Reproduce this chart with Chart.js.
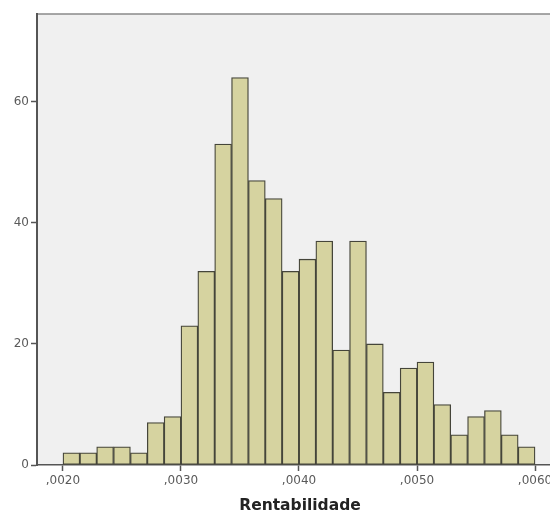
<!DOCTYPE html>
<html>
<head>
<meta charset="utf-8">
<script src="https://cdn.jsdelivr.net/npm/chart.js@4.4.0/dist/chart.umd.min.js"></script>
<style>
body { margin: 0; background: #fff; overflow: hidden; }
#wrap { width: 550px; height: 515px; overflow: hidden; position: relative; }
canvas { position: absolute; left: 0; top: 0; }
</style>
</head>
<body>
<div id="wrap"><canvas id="myChart" width="563" height="515"></canvas></div>
<script>
// histogram of Rentabilidade, 28 bins from ,0020 to ,0060
let binStart = 0.0020;
let binWidth = 0.001 / 7;
let counts = [2, 2, 3, 3, 2, 7, 8, 23, 32, 53, 64, 47, 44, 32, 34, 37, 19, 37, 20, 12, 16, 17, 10, 5, 8, 9, 5, 3];
let xTicks = [0.0020, 0.0030, 0.0040, 0.0050, 0.0060];
let yTicks = [0, 20, 40, 60];

let points = counts.map((c, i) => ({ x: binStart + (i + 0.5) * binWidth, y: c }));

let plotBg = {
	id: 'plotBg',
	beforeDraw(chart) {
		let a = chart.chartArea;
		let ctx = chart.ctx;
		ctx.save();
		ctx.fillStyle = '#f0f0f0';
		ctx.fillRect(a.left, a.top, a.right - a.left, a.bottom - a.top);
		ctx.strokeStyle = '#8a8a8a';
		ctx.lineWidth = 1.5;
		ctx.beginPath();
		ctx.moveTo(a.left, a.top);
		ctx.lineTo(a.right, a.top);
		ctx.stroke();
		ctx.restore();
	}
};

let myChart = document.getElementById("myChart").getContext('2d');

let chart = new Chart(myChart, {
	type: 'bar',
	data: {
		datasets: [{
			data: points,
			backgroundColor: '#d6d3a0',
			borderColor: '#45453a',
			borderWidth: 1.3,
			barPercentage: 1,
			categoryPercentage: 1,
			borderSkipped: false
		}]
	},
	plugins: [plotBg],
	options: {
		responsive: false,
		animation: false,
		devicePixelRatio: 1,
		layout: { padding: { top: 14, left: 0, right: 0, bottom: 0 } },
		plugins: {
			legend: { display: false },
			tooltip: { enabled: false }
		},
		scales: {
			x: {
				type: 'linear',
				offset: false,
				min: 0.00178,
				max: 0.006237,
				afterBuildTicks: s => { s.ticks = xTicks.map(v => ({ value: v })); },
				afterFit: s => { s.height = 50; },
				grid: { offset: false, drawOnChartArea: false, drawTicks: true, tickLength: 6, tickColor: '#555', tickWidth: 1.5 },
				border: { display: true, color: '#555', width: 1.5 },
				ticks: {
					color: '#5a5a5a',
					font: { family: 'DejaVu Sans', size: 12 },
					padding: 3,
					maxRotation: 0,
					callback: v => v.toFixed(4).slice(1).replace('.', ',')
				},
				title: {
					display: true,
					text: 'Rentabilidade',
					color: '#222',
					font: { family: 'DejaVu Sans', size: 15.5, weight: 'bold' },
					padding: { top: 3, bottom: 0 }
				}
			},
			y: {
				min: 0,
				max: 74.5,
				afterBuildTicks: s => { s.ticks = yTicks.map(v => ({ value: v })); },
				afterFit: s => { s.width = 37; },
				grid: { drawOnChartArea: false, drawTicks: true, tickLength: 6, tickColor: '#555', tickWidth: 1.5 },
				border: { display: true, color: '#555', width: 2 },
				ticks: {
					color: '#5a5a5a',
					font: { family: 'DejaVu Sans', size: 12 },
					padding: 2
				}
			}
		}
	}
});
</script>
</body>
</html>
